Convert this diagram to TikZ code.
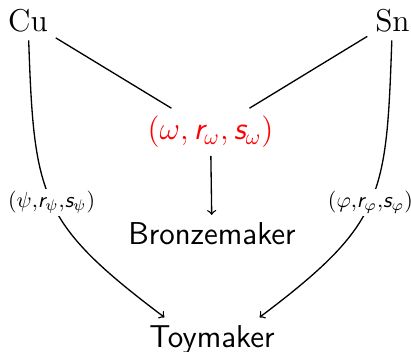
\documentclass[tikz,border=0pt]{standalone}
\usepackage{tikz}
\DeclareMathAlphabet{\mathsfit}{OT1}{cmss}{m}{sl}

\begin{document}
\begin{tikzpicture}[
  semithick,
  metal/.style={font=\Large},
  maker/.style={font=\Large\sffamily},
  pair/.style={font=\Large, text=red},
  arr/.style={-{To[scale=2]}},
  lbl/.style={font=\normalsize, fill=white, inner sep=1pt}
]
  \useasboundingbox (0,0) rectangle (6.576,5.632);

  \node[metal] (cu) at (0.448,5.296) {Cu};
  \node[metal] (sn) at (6.28,5.296) {Sn};
  \node[pair] (omega) at (3.368,3.52) {$(\omega, \mathsfit{r}_\omega, \mathsfit{s}_\omega)$};
  \node[maker] (bronze) at (3.392,1.888) {Bronzemaker};
  \node[maker] (toy) at (3.392,0.2) {Toymaker};

  \draw (cu) -- (omega);
  \draw (sn) -- (omega);
  \draw[arr] (omega) -- (bronze);
  \draw[arr] (cu) to[out=-88, in=143, looseness=1.3]
    node[lbl] {$(\psi{,}\mathsfit{r}_\psi{,}\mathsfit{s}_\psi)$} (toy.155);
  \draw[arr] (sn) to[out=-92, in=37, looseness=1.3]
    node[lbl] {$(\varphi{,}\mathsfit{r}_\varphi{,}\mathsfit{s}_\varphi)$} (toy.25);
\end{tikzpicture}
\end{document}
